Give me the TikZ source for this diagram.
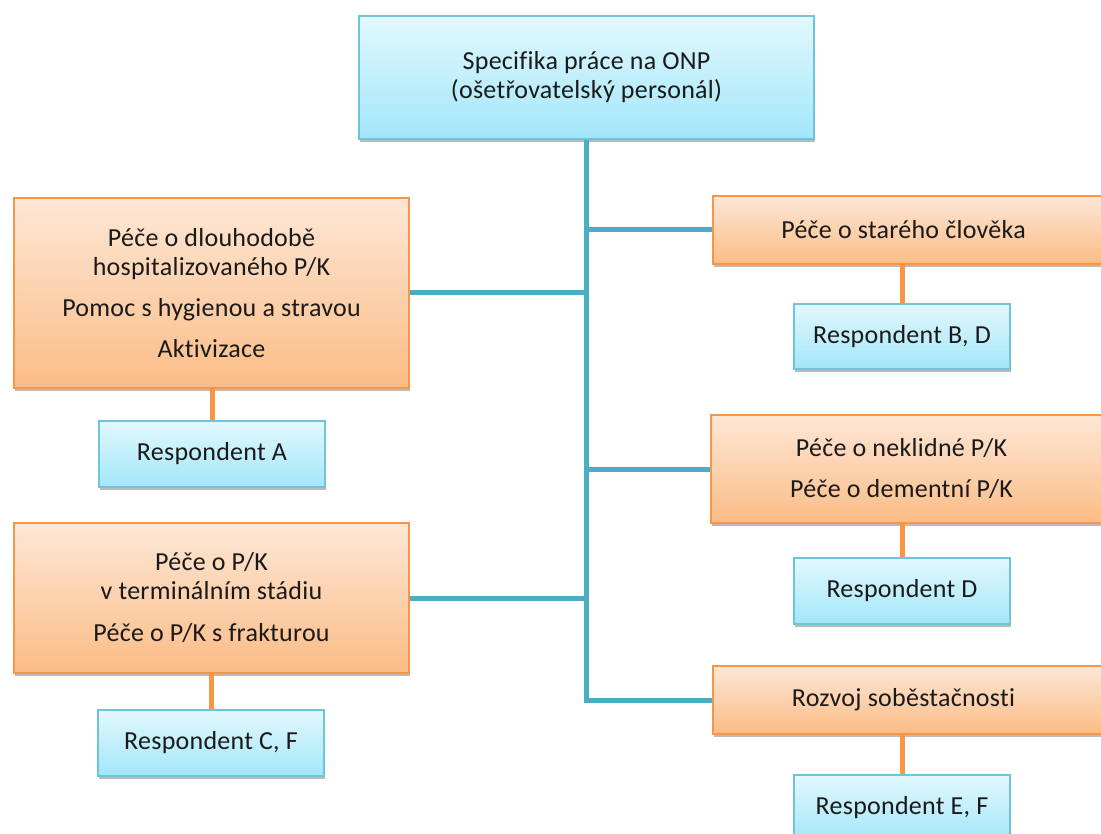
\documentclass[tikz,border=0pt]{standalone}
\usepackage{fontspec}
\setmainfont{Carlito}[Ligatures=NoCommon, LetterSpace=1]
\usetikzlibrary{shadows}

\definecolor{aqualine}{HTML}{4BACC6}
\definecolor{aquaedge}{HTML}{6EC4DB}
\definecolor{aquatop}{HTML}{E2F8FE}
\definecolor{aquabot}{HTML}{A2E6F9}
\definecolor{orline}{HTML}{F79646}
\definecolor{ortop}{HTML}{FDE7D6}
\definecolor{orbot}{HTML}{FBBC86}
\definecolor{inktext}{HTML}{1A1A1A}

\tikzset{
  boxbase/.style={rectangle, line width=2pt, align=center, inner sep=0pt,
    anchor=north west, text=inktext,
    font=\fontsize{26}{29}\selectfont,
    drop shadow={shadow xshift=1pt, shadow yshift=-3pt, fill=black!45, opacity=0.6}},
  bluebox/.style={boxbase, draw=aquaedge, top color=aquatop, bottom color=aquabot},
  orangebox/.style={boxbase, draw=orline, top color=ortop, bottom color=orbot},
  trunk/.style={draw=aqualine, line width=5pt},
  twig/.style={draw=orline, line width=5pt},
}

\begin{document}
\begin{tikzpicture}[x=1pt, y=-1pt]
  \path[use as bounding box, fill=white] (0,0) rectangle (1101,834);
  \clip (0,0) rectangle (1101,834);

  % root
  \node[bluebox, minimum width=455pt, minimum height=123pt] (top) at (358,15)
    {Specifika práce na ONP\\(ošetřovatelský personál)};

  % left column
  \node[orangebox, minimum width=395pt, minimum height=190pt] (L1) at (13,197)
    {Péče o dlouhodobě\\hospitalizovaného P/K\\[12pt]Pomoc s hygienou a stravou\\[12pt]Aktivizace};
  \node[bluebox, minimum width=226pt, minimum height=66pt] (rA) at (98,420)
    {Respondent A};
  \node[orangebox, minimum width=395pt, minimum height=150pt] (L2) at (13,522)
    {Péče o P/K\\v terminálním stádiu\\[13pt]Péče o P/K s frakturou};
  \node[bluebox, minimum width=226pt, minimum height=66pt] (rCF) at (97,709)
    {Respondent C, F};

  % right column (boxes run past the right edge)
  \node[orangebox, minimum width=395pt, minimum height=68pt] (R1) at (712,195)
    {\hspace*{-14pt}Péče o starého člověka};
  \node[bluebox, minimum width=216pt, minimum height=65pt] (rBD) at (793,303)
    {Respondent B, D};
  \node[orangebox, minimum width=395pt, minimum height=108pt] (R3) at (710,414)
    {\hspace*{-14pt}Péče o neklidné P/K\\[12pt]\hspace*{-14pt}Péče o dementní P/K};
  \node[bluebox, minimum width=216pt, minimum height=66pt] (rD) at (793,557)
    {Respondent D};
  \node[orangebox, minimum width=395pt, minimum height=68pt] (R4) at (712,665)
    {\hspace*{-14pt}Rozvoj soběstačnosti};
  \node[bluebox, minimum width=216pt, minimum height=66pt] (rEF) at (793,774)
    {Respondent E, F};

  % blue trunk and branches
  \draw[trunk] (top.south) -- (top.south |- R4.west) -- (R4.west);
  \draw[trunk] (L1.east) -- (L1.east -| top.south);
  \draw[trunk] (L2.east) -- (L2.east -| top.south);
  \draw[trunk] (top.south |- R1.west) -- (R1.west);
  \draw[trunk] (top.south |- R3.west) -- (R3.west);

  % orange links to respondents
  \draw[twig] (L1.south -| rA.north) -- (rA.north);
  \draw[twig] (L2.south -| rCF.north) -- (rCF.north);
  \draw[twig] (R1.south -| rBD.north) -- (rBD.north);
  \draw[twig] (R3.south -| rD.north) -- (rD.north);
  \draw[twig] (R4.south -| rEF.north) -- (rEF.north);
\end{tikzpicture}
\end{document}
